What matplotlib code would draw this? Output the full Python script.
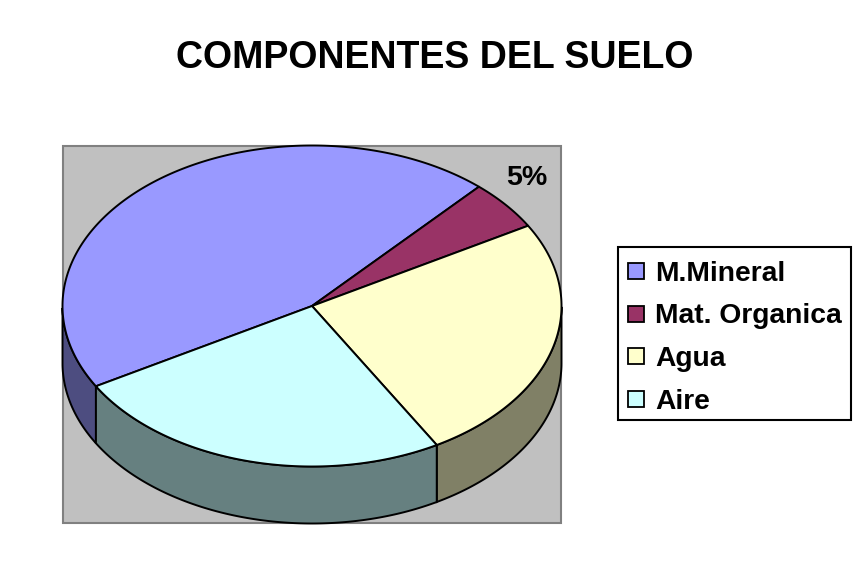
import numpy as np
import matplotlib
matplotlib.use("Agg")
import matplotlib.pyplot as plt
from matplotlib.patches import Polygon, Rectangle
from matplotlib.lines import Line2D

title = "COMPONENTES DEL SUELO"
categories = ["M.Mineral", "Mat. Organica", "Agua", "Aire"]
values = [45, 5, 25, 25]
top_colors = ["#9999FF", "#993366", "#FFFFCC", "#CCFFFF"]
side_colors = ["#4D4D80", "#4D1A33", "#808066", "#668080"]
shown_label = {1: "5%"}

plt.rcParams["font.family"] = ["Liberation Sans", "DejaVu Sans"]
W, H = 868, 588
fig = plt.figure(figsize=(W / 100, H / 100), dpi=100, facecolor="white")
ax = fig.add_axes([0, 0, 1, 1])
ax.set_xlim(0, W)
ax.set_ylim(H, 0)
ax.axis("off")

cx, cy, rx, ry, depth = 312, 306, 249.5, 160.5, 57
start = 210.0

ax.add_patch(Rectangle((62.5, 145.5), 498.5, 377.5, fc="#C0C0C0", ec="#808080", lw=1.5, zorder=1))

def pt(a):
    a = np.asarray(a, float)
    return cx + rx * np.cos(np.radians(a)), cy - ry * np.sin(np.radians(a))

edges = start - np.cumsum([0] + values) * 3.6

# Side walls (visible only where the rim faces the viewer: 180..360 degrees)
for i in range(len(values)):
    hi, lo = edges[i] % 360, edges[i + 1] % 360
    if hi <= lo:
        hi += 360
    a = np.linspace(lo, hi, 200)
    for shift in (0, 360):
        b = a[(a + shift >= 180) & (a + shift <= 360)]
        if len(b) < 2:
            continue
        x, y = pt(b + shift)
        verts = np.r_[np.c_[x, y], np.c_[x, y + depth][::-1]]
        ax.add_patch(Polygon(verts, closed=True, fc=side_colors[i], ec="black", lw=1.4, zorder=2))

# Top face
for i in range(len(values)):
    a = np.linspace(edges[i], edges[i + 1], 200)
    x, y = pt(a)
    verts = np.r_[[[cx, cy]], np.c_[x, y]]
    ax.add_patch(Polygon(verts, closed=True, fc=top_colors[i], ec="black", lw=1.4, zorder=3, joinstyle="round"))
    if i in shown_label:
        ax.text(527, 178, shown_label[i], fontsize=20.5, fontweight="bold", ha="center", va="center", zorder=4)

ax.text(435, 58, title, fontsize=27, fontweight="bold", ha="center", va="center", zorder=4)

# Legend: frame and rows
ax.add_patch(Rectangle((618, 247), 233, 173, fc="white", ec="black", lw=1.5, zorder=4))
handles = [Line2D([], [], ls="none", marker="s", ms=11, mfc=c, mec="black", mew=1.3) for c in top_colors]
leg = ax.legend(handles, categories, loc="upper left", bbox_to_anchor=(628 / W, 1 - 260.5 / H),
                bbox_transform=fig.transFigure, prop={"size": 20.3, "weight": "bold"}, frameon=False,
                borderaxespad=0, borderpad=0, labelspacing=0.6, handletextpad=0.38, handlelength=0.58)
leg.set_zorder(5)

fig.savefig("out.png", dpi=100, facecolor="white")
